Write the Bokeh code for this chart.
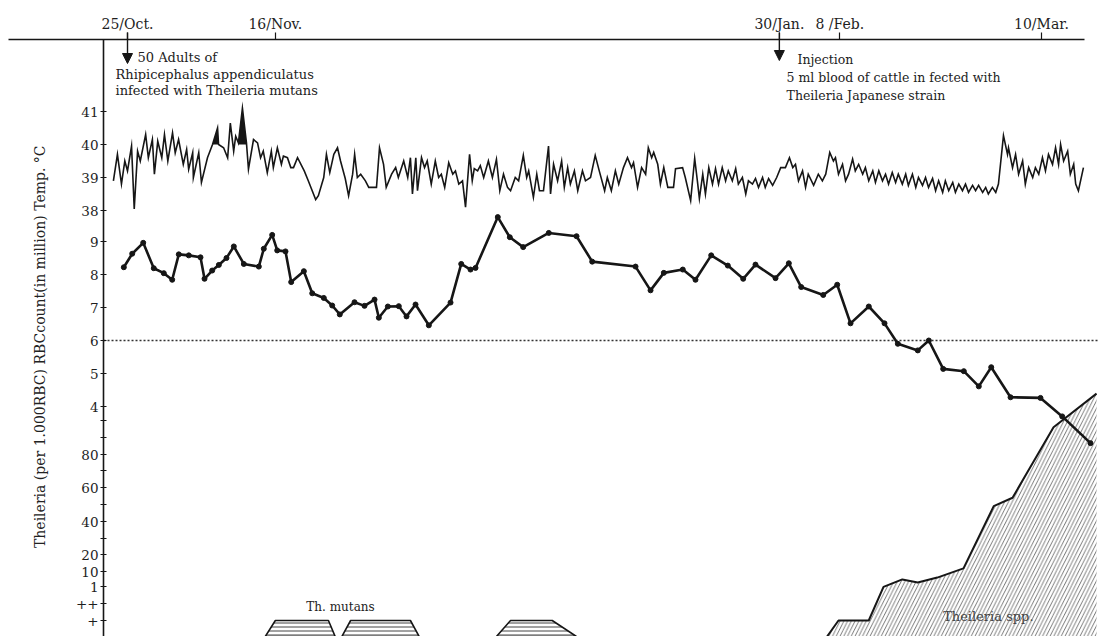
import math
import numpy as np
from bokeh.plotting import figure
from bokeh.models import Range1d, LinearAxis, FixedTicker, Arrow, NormalHead
from bokeh.core.properties import value
from bokeh.embed import file_html
from bokeh.resources import INLINE

FONT = "DejaVu Serif"
INK = "#161616"

# ---------------- data (x = days after 25 Oct) ----------------
date_ticks = [0, 22, 97, 106, 136]
date_labels = ["25/Oct.", "16/Nov.", "30/Jan.", "8 /Feb.", "10/Mar."]

temp_day = [
    -2.1, -1.5, -0.9, -0.4, 0.0, 0.6, 1.0, 1.5, 1.9, 2.7, 3.1, 3.7, 4.0, 4.5, 5.1, 5.5, 6.0, 6.7, 7.1, 7.6,
    8.3, 8.8, 9.1, 9.7, 9.8, 10.6, 11.0, 11.9, 12.65, 13.4, 13.55, 14.3, 14.9, 15.3, 15.8, 16.1, 16.5, 17.1, 17.7, 18.0,
    18.75, 19.35, 19.8, 20.2, 20.8, 21.4, 21.7, 22.3, 22.9, 23.2, 23.8, 24.3, 24.7, 25.3,
    26.3, 26.9, 28.0, 28.4, 29.2, 29.6, 30.1, 30.7, 31.25, 31.7, 32.4, 32.9, 33.5, 33.8, 34.2, 34.7, 35.4, 35.9, 37.05, 37.5,
    38.1, 38.5, 39.3, 39.9, 40.3,
    41.1, 41.7, 42.1, 42.4, 42.9, 43.15, 43.75, 44.2, 44.6, 45.2, 45.8, 46.3, 46.7, 47.2, 47.8, 48.4, 48.8, 49.3, 49.85, 50.3,
    50.9, 51.3, 51.6, 52.1, 52.5, 53.0, 53.7, 54.3, 54.9, 55.4, 55.95, 56.55, 57.0, 57.7, 58.2, 58.9, 59.4, 59.7, 60.4, 60.9,
    61.3, 61.9, 62.65, 62.95, 63.4, 64.0, 64.6, 65.0, 65.5, 65.9, 66.5, 67.0, 67.7, 68.15, 68.9, 69.6, 70.2, 71.0, 71.4, 72.0,
    72.6, 73.1, 73.8, 74.4, 75.0, 75.3, 75.9, 76.5, 77.1, 77.5, 78.0, 78.3, 78.9, 79.3, 79.8, 80.4, 81.25, 81.55, 82.6, 83.0,
    83.8, 84.4, 84.8, 85.1, 85.6, 86.0, 86.5, 87.05, 87.5, 87.95, 88.5, 89.0, 89.4, 90.0, 90.5, 90.9, 91.5, 92.0, 92.4, 93.0,
    93.45, 93.9, 94.5, 94.9, 95.4, 96.0, 96.6, 97.2,
    97.9, 98.5, 99.0, 99.4, 99.85, 100.45, 100.9, 101.3, 102.1, 102.8, 103.4, 103.9, 104.5, 105.05, 105.35, 105.8, 106.4, 106.85, 107.3, 107.9,
    108.3, 108.8, 109.4, 109.8, 110.3, 110.9, 111.3, 111.8, 112.35, 112.8, 113.25, 113.8, 114.3, 114.7, 115.3, 115.8, 116.2, 116.8, 117.3, 117.7,
    118.3, 118.75, 119.2, 119.8, 120.25, 120.7, 121.3, 121.7, 122.2, 122.8, 123.2, 123.7, 124.25, 124.7, 125.15, 125.75, 126.2, 126.65, 127.25, 127.7,
    128.1, 128.7, 129.2, 129.6, 130.35, 130.95, 131.1, 131.7, 132.15, 132.6, 133.2, 133.6, 134.1, 134.7, 135.1, 135.6, 136.15, 136.6, 137.05, 137.65,
    138.1, 138.55, 138.85, 139.3, 139.9, 140.3, 140.8, 141.1, 141.5, 142.25,
]
temp_c = [
    38.9, 39.7, 38.8, 39.5, 39.2, 39.95, 38.05, 39.8, 39.5, 40.3, 39.6, 40.15, 39.1, 40.1, 39.6, 40.3, 39.5, 40.35, 39.75, 40.15,
    39.4, 39.85, 39.25, 39.75, 39.0, 39.75, 38.85, 39.6, 40.0, 40.5, 40.0, 39.9, 39.6, 40.65, 39.8, 40.25, 40.05, 41.1, 40.05, 39.25,
    40.15, 40.05, 39.6, 39.8, 39.15, 39.8, 39.3, 39.9, 39.4, 39.65, 39.6, 39.3, 39.3, 39.6,
    39.2, 38.9, 38.33, 38.45, 39.0, 39.7, 39.15, 39.7, 39.9, 39.5, 38.97, 38.45, 39.1, 39.7, 39.0, 39.1, 38.9, 38.7, 38.7, 39.9,
    39.4, 38.7, 39.1, 39.3, 39.0,
    39.5, 39.0, 39.6, 38.5, 39.6, 38.6, 39.6, 39.3, 39.5, 38.8, 39.5, 39.0, 39.1, 38.7, 39.45, 39.1, 39.2, 38.8, 38.9, 38.1,
    39.7, 38.9, 39.27, 39.2, 39.36, 39.0, 39.5, 39.0, 39.55, 38.6, 39.1, 38.7, 38.6, 39.0, 38.9, 39.67, 39.0, 39.2, 38.4, 39.1,
    38.6, 38.6, 39.95, 38.5, 39.4, 38.9, 39.5, 38.7, 39.3, 38.8, 39.2, 38.6, 39.2, 38.9, 39.0, 39.67, 39.2, 38.6, 39.0, 38.6,
    39.2, 38.8, 39.3, 39.6, 39.3, 39.45, 38.7, 39.3, 39.1, 39.9, 39.6, 39.76, 39.4, 38.8, 39.3, 38.7, 38.7, 39.27, 39.3, 39.0,
    38.3, 39.58, 38.9, 38.36, 39.1, 38.5, 39.3, 38.8, 39.27, 38.8, 39.3, 38.9, 39.2, 38.9, 39.27, 38.8, 39.0, 38.5, 38.9, 38.8,
    38.97, 38.7, 39.0, 38.7, 38.97, 38.76, 39.0, 39.3,
    39.3, 39.6, 39.3, 39.4, 38.9, 39.2, 38.7, 39.1, 38.76, 39.1, 38.9, 39.1, 39.76, 39.5, 39.6, 39.1, 39.4, 38.9, 39.1, 39.56,
    39.2, 39.4, 39.1, 39.3, 38.9, 39.2, 38.85, 39.2, 38.9, 39.1, 38.8, 39.15, 38.85, 39.1, 38.8, 39.1, 38.76, 39.1, 38.7, 39.0,
    38.76, 39.0, 38.7, 38.97, 38.6, 38.9, 38.55, 38.9, 38.6, 38.85, 38.55, 38.8, 38.6, 38.8, 38.55, 38.76, 38.6, 38.76, 38.55, 38.7,
    38.5, 38.7, 38.55, 38.8, 40.27, 39.7, 39.9, 39.3, 39.7, 39.1, 39.5, 38.8, 39.3, 39.0, 39.3, 39.1, 39.6, 39.2, 39.7, 39.4,
    39.9, 39.4, 40.0, 39.5, 39.8, 39.1, 39.4, 38.8, 38.6, 39.3,
]
fever_windows = [(12.6, 13.6), (15.2, 15.4), (16.5, 17.75)]

rbc_day = [
    -0.55, 0.7, 2.34, 3.91, 5.4, 6.65, 7.63, 9.12, 10.86, 11.46, 12.6, 13.59, 14.73, 15.82, 17.31, 19.54, 20.28, 21.53, 22.28, 23.51,
    24.36, 26.24, 27.49, 29.21, 30.46, 31.59, 33.78, 35.27, 36.76, 37.4, 38.74, 40.37, 41.52, 42.86, 44.84, 48.07, 49.66, 51.04, 51.79, 55.1,
    56.89, 58.88, 62.69, 66.82, 69.15, 75.6, 77.83, 79.81, 82.63, 84.52, 86.86, 89.33, 91.62, 93.45, 96.43, 98.41, 100.25, 103.53, 105.61, 107.59,
    110.31, 112.65, 114.63, 117.6, 119.24, 121.38, 124.45, 126.68, 128.53, 131.4, 135.86, 139.09, 143.3,
]
rbc_million = [
    8.22, 8.63, 8.96, 8.19, 8.04, 7.84, 8.61, 8.58, 8.52, 7.87, 8.12, 8.29, 8.5, 8.85, 8.32, 8.24, 8.78, 9.2, 8.73, 8.7,
    7.77, 8.1, 7.43, 7.29, 7.06, 6.79, 7.16, 7.05, 7.24, 6.69, 7.03, 7.04, 6.73, 7.09, 6.46, 7.15, 8.32, 8.15, 8.2, 9.74,
    9.13, 8.83, 9.26, 9.16, 8.39, 8.24, 7.52, 8.05, 8.15, 7.84, 8.58, 8.27, 7.87, 8.3, 7.89, 8.34, 7.62, 7.38, 7.69, 6.52,
    7.03, 6.52, 5.9, 5.7, 6.0, 5.14, 5.07, 4.61, 5.19, 4.28, 4.26, 3.7, 2.89,
]
rbc_reference = 6

spp_day = [104.1, 105.8, 110.3, 112.5, 115.3, 117.6, 120.5, 124.4, 128.9, 131.7, 137.8, 144.2]
spp_level = ["-", "+", "+", 1, 5.4, 3.6, 6.5, 12, 49, 54, 96, 116]

mutans_day = [[20.5, 22.0, 29.9, 30.9], [31.9, 33.2, 42.1, 43.4], [54.9, 57.0, 63.2, 66.8]]
mutans_level = ["-", "+", "+", "-"]

temp_ticks = [38, 39, 40, 41]
rbc_ticks = [4, 5, 6, 7, 8, 9]
th_ticks = [1, 10, 20, 40, 60, 80]
th_minor = [30, 50, 70, 90, 100]
qual_ticks = ["+", "++"]

# ---------------- composite vertical scale ----------------
QUAL = {"-": 0, "+": 16, "++": 33}


def y_temp(t):
    return 426 + 33 * (np.asarray(t, dtype=float) - 38)


def y_rbc(r):
    return 230 + 33 * (np.asarray(r, dtype=float) - 4)


def y_th(v):
    if isinstance(v, str):
        return QUAL[v]
    return 48 + 1.68 * v


X0, X1 = -18.9, 144.64
AXIS_X = -3.57
TOP_Y = 597

p = figure(width=1099, height=636, output_backend="svg", toolbar_location=None,
           x_range=Range1d(X0, X1), y_range=Range1d(0, 636),
           x_axis_location=None, y_axis_location=None,
           min_border=0, min_border_left=0, min_border_right=0, min_border_top=0, min_border_bottom=0)
p.grid.visible = False
p.outline_line_color = None
p.background_fill_color = "white"
p.border_fill_color = "white"

# ---- vertical composite axis ----
tick_pos, tick_lab = [], {}
for t in temp_ticks:
    v = int(round(float(y_temp(t)))); tick_pos.append(v); tick_lab[v] = str(t)
for r in rbc_ticks:
    v = int(round(float(y_rbc(r)))); tick_pos.append(v); tick_lab[v] = str(r)
for t in th_ticks:
    v = int(round(y_th(t))); tick_pos.append(v); tick_lab[v] = str(t)
for t in th_minor:
    v = int(round(y_th(t))); tick_pos.append(v); tick_lab[v] = ""
for q in qual_ticks:
    v = int(round(y_th(q))); tick_pos.append(v); tick_lab[v] = q

yax = LinearAxis(fixed_location=AXIS_X, ticker=FixedTicker(ticks=sorted(tick_pos)),
                 major_label_overrides=tick_lab, bounds=(0, TOP_Y))
yax.axis_line_color = INK
yax.axis_line_width = 1.6
yax.major_tick_in = 3
yax.major_tick_out = 3
yax.major_tick_line_color = INK
yax.major_tick_line_width = 1.2
yax.minor_tick_line_color = None
yax.major_label_standoff = 2
yax.major_label_text_font = FONT
yax.major_label_text_font_size = "13.5px"
yax.major_label_text_color = "#1e1e1e"
p.add_layout(yax, "left")

# ---- top date axis ----
xax = LinearAxis(fixed_location=TOP_Y, ticker=FixedTicker(ticks=date_ticks),
                 major_label_overrides=dict(zip(date_ticks, date_labels)), bounds=(-17.71, 142.4))
xax.axis_line_color = INK
xax.axis_line_width = 1.6
xax.major_tick_in = 0
xax.major_tick_out = 7
xax.major_tick_line_color = INK
xax.major_tick_line_width = 1.2
xax.minor_tick_line_color = None
xax.major_label_standoff = 1
xax.major_label_text_font = FONT
xax.major_label_text_font_size = "14px"
xax.major_label_text_color = "#1e1e1e"
p.add_layout(xax, "above")

# ---- axis title ----
p.text(x=[-12.95], y=[292], text=["Theileria (per 1.000RBC) RBCcount(in million)  Temp. \u00b0C"],
       angle=math.pi / 2, text_align="center", text_baseline="middle",
       text_font=value(FONT), text_font_size="14px", text_color="#222")

# ---- Theileria spp. hatched area ----
spp_y = [y_th(v) for v in spp_level]
p.varea(x=spp_day, y1=[0] * len(spp_day), y2=spp_y, fill_alpha=0,
        hatch_pattern="/", hatch_color="#6a6a6a", hatch_scale=7.5, hatch_weight=0.9)
p.line(spp_day, spp_y, line_color=INK, line_width=2)
p.text(x=[128.1], y=[20], text=["Theileria spp."], text_align="center", text_baseline="middle",
       text_font=value(FONT), text_font_size="13px", text_color="#444")

# ---- Th. mutans trapezoids ----
mut_y = [y_th(v) for v in mutans_level]
p.patches(xs=mutans_day, ys=[mut_y] * len(mutans_day), fill_alpha=0,
          hatch_pattern="-", hatch_color="#444", hatch_scale=4, hatch_weight=1.0,
          line_color=INK, line_width=1.6)
p.text(x=[31.7], y=[30], text=["Th. mutans"], text_align="center", text_baseline="middle",
       text_font=value(FONT), text_font_size="12px", text_color="#222")

# ---- temperature ----
td = np.array(temp_day)
tc = np.array(temp_c)
for a, b in fever_windows:
    m = (td >= a) & (td <= b)
    p.varea(x=td[m], y1=y_temp(np.full(m.sum(), 40.0)), y2=y_temp(np.maximum(tc[m], 40.0)),
            fill_color=INK)
p.line(temp_day, y_temp(temp_c), line_color=INK, line_width=1.6, line_join="miter")

# ---- RBC ----
p.line([AXIS_X, X1], [float(y_rbc(rbc_reference))] * 2, line_color="#333", line_width=1.4, line_dash="2 2")
p.line(rbc_day, y_rbc(rbc_million), line_color=INK, line_width=2.6)
p.scatter(rbc_day, y_rbc(rbc_million), size=5, color=INK)

# ---- event arrows & notes ----
for d, y_end in [(0, 573), (97, 576)]:
    p.add_layout(Arrow(end=NormalHead(size=10, fill_color=INK, line_color=INK),
                       x_start=d, y_start=604, x_end=d, y_end=y_end,
                       line_color=INK, line_width=1.4))

notes_x = [1.49, -1.79, -1.79, 99.7, 98.07, 98.07]
notes_y = [579, 562, 546, 577, 559, 541]
notes = ["50 Adults of", "Rhipicephalus appendiculatus", "infected with Theileria mutans",
         "Injection", "5 ml blood of cattle in fected with", "Theileria Japanese strain"]
p.text(x=notes_x[:3], y=notes_y[:3], text=notes[:3], text_align="left", text_baseline="middle",
       text_font=value(FONT), text_font_size="13px", text_color="#222")
p.text(x=notes_x[3:], y=notes_y[3:], text=notes[3:], text_align="left", text_baseline="middle",
       text_font=value(FONT), text_font_size="12.5px", text_color="#222")

open("out.html", "w").write(file_html(p, INLINE))
